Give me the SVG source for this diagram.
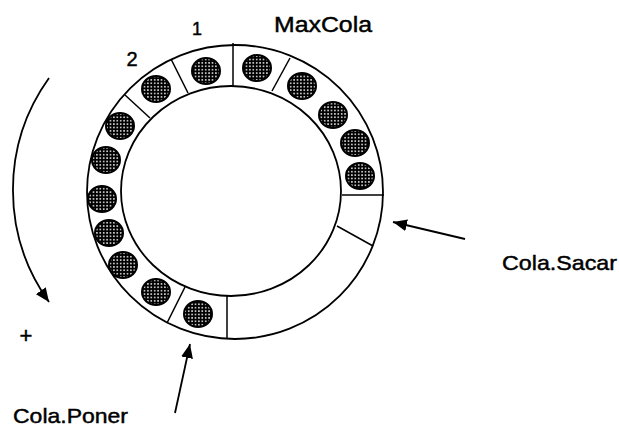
<svg xmlns="http://www.w3.org/2000/svg" width="619" height="426" viewBox="0 0 619 426">
<style>
.ring{fill:none;stroke:#000;stroke-width:1.8}
.div{stroke:#000;stroke-width:1.5;fill:none}
.dot{fill:url(#dots);stroke:#000;stroke-width:2}
.arr{stroke:#000;stroke-width:1.8;fill:none}
.lbl{font-family:"Liberation Sans",Arial,sans-serif;fill:#000;stroke:#000;stroke-width:0.45}
</style>
<defs>
<pattern id="dots" width="3.4" height="3.4" patternUnits="userSpaceOnUse">
<rect width="3.4" height="3.4" fill="#000"/>
<circle cx="1.7" cy="1.7" r="0.85" fill="#fff"/>
</pattern>
<marker id="head" markerWidth="15" markerHeight="12" refX="14" refY="6" orient="auto" markerUnits="userSpaceOnUse">
<path d="M0,0 L14,6 L0,12 Z" fill="#000"/>
</marker>
</defs>
<rect width="619" height="426" fill="#fff"/>
<g id="queue">
<ellipse class="ring" cx="235" cy="192" rx="148" ry="147"/>
<ellipse class="ring" cx="231" cy="191" rx="110" ry="105"/>
<line class="div" x1="233" y1="43" x2="233" y2="86"/>
<line class="div" x1="171" y1="59" x2="188" y2="93"/>
<line class="div" x1="290" y1="58" x2="272" y2="91"/>
<line class="div" x1="125" y1="95" x2="150" y2="118"/>
<line class="div" x1="342" y1="195" x2="384" y2="195"/>
<line class="div" x1="337" y1="226" x2="373" y2="246"/>
<line class="div" x1="227" y1="296" x2="227" y2="338"/>
<line class="div" x1="185" y1="287" x2="167" y2="323"/>
</g>
<g id="elements">
<ellipse class="dot" cx="206" cy="71" rx="14" ry="13"/>
<ellipse class="dot" cx="257" cy="68" rx="14" ry="13"/>
<ellipse class="dot" cx="302" cy="86" rx="14" ry="13"/>
<ellipse class="dot" cx="333" cy="115" rx="14" ry="13"/>
<ellipse class="dot" cx="355" cy="143" rx="14" ry="13"/>
<ellipse class="dot" cx="360" cy="176" rx="14" ry="13"/>
<ellipse class="dot" cx="156" cy="89" rx="14" ry="13"/>
<ellipse class="dot" cx="120" cy="126" rx="14" ry="13"/>
<ellipse class="dot" cx="106" cy="160" rx="14" ry="13"/>
<ellipse class="dot" cx="102" cy="199" rx="14" ry="13"/>
<ellipse class="dot" cx="109" cy="233" rx="14" ry="13"/>
<ellipse class="dot" cx="123" cy="265" rx="14" ry="13"/>
<ellipse class="dot" cx="156" cy="292" rx="14" ry="13"/>
<ellipse class="dot" cx="198" cy="314" rx="14" ry="13"/>
</g>
<g id="connectors">
<path class="arr" d="M49,78 A192,192 0 0 0 49,302" marker-end="url(#head)"/>
<line class="arr" x1="465" y1="239" x2="393" y2="222" marker-end="url(#head)"/>
<line class="arr" x1="175" y1="413" x2="190" y2="344" marker-end="url(#head)"/>
</g>
<g id="labels">
<text class="lbl" x="197" y="35" font-size="18" text-anchor="middle">1</text>
<text class="lbl" x="132" y="66" font-size="20" text-anchor="middle">2</text>
<text class="lbl" x="274" y="32" font-size="22" textLength="98" lengthAdjust="spacingAndGlyphs">MaxCola</text>
<text class="lbl" x="502" y="270" font-size="21" textLength="115" lengthAdjust="spacingAndGlyphs">Cola.Sacar</text>
<text class="lbl" x="13" y="423" font-size="21" textLength="115" lengthAdjust="spacingAndGlyphs">Cola.Poner</text>
<text class="lbl" x="26" y="343" font-size="22" text-anchor="middle">+</text>
</g>
</svg>
